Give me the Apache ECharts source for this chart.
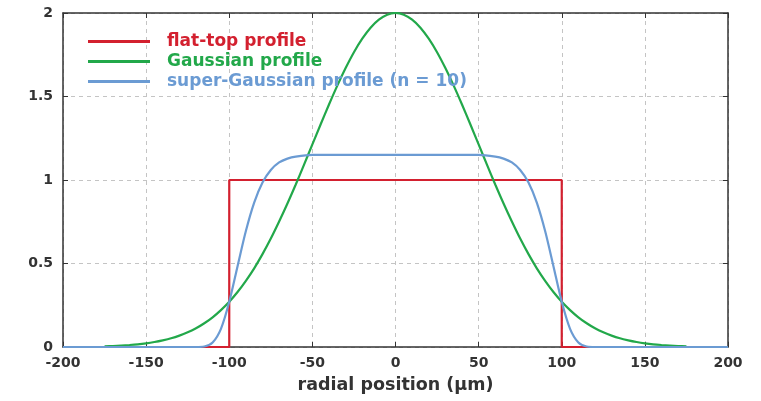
<!DOCTYPE html>
<html>
<head>
<meta charset="utf-8">
<script src="https://cdn.jsdelivr.net/npm/echarts@6/dist/echarts.min.js"></script>
<style>html,body{margin:0;padding:0;background:#fff;}#c{width:761px;height:401px;}</style>
</head>
<body>
<div id="c"></div>
<script>
// flat-top profile
const flatX = [-200, -100, -100, 100, 100, 200];
const flatY = [0, 0, 1, 1, 0, 0];
// Gaussian profile
const gaussX = [-175,-170,-165,-160,-155,-150,-145,-140,-135,-130,-125,-120,-115,-110,-105,-100,-95,-90,-85,-80,-75,-70,-65,-60,-55,-50,-45,-40,-35,-30,-25,-20,-15,-10,-5,0,5,10,15,20,25,30,35,40,45,50,55,60,65,70,75,80,85,90,95,100,105,110,115,120,125,130,135,140,145,150,155,160,165,170,175];
const gaussY = [0.004,0.006,0.009,0.012,0.016,0.022,0.030,0.040,0.052,0.068,0.088,0.112,0.142,0.178,0.221,0.271,0.329,0.396,0.471,0.556,0.649,0.751,0.859,0.973,1.092,1.213,1.334,1.452,1.565,1.670,1.765,1.846,1.912,1.960,1.990,2.000,1.990,1.960,1.912,1.846,1.765,1.670,1.565,1.452,1.334,1.213,1.092,0.973,0.859,0.751,0.649,0.556,0.471,0.396,0.329,0.271,0.221,0.178,0.142,0.112,0.088,0.068,0.052,0.040,0.030,0.022,0.016,0.012,0.009,0.006,0.004];
// super-Gaussian profile (n = 10)
const sgX = [-200,-120,-115,-110,-105,-100,-95,-90,-85,-80,-75,-70,-65,-60,-50,0,50,60,65,70,75,80,85,90,95,100,105,110,115,120,200];
const sgY = [0,0,0.003,0.027,0.109,0.271,0.484,0.695,0.865,0.985,1.060,1.105,1.128,1.140,1.150,1.150,1.150,1.140,1.128,1.105,1.060,0.985,0.865,0.695,0.484,0.271,0.109,0.027,0.003,0,0];
const xTicks = [-200, -150, -100, -50, 0, 50, 100, 150, 200];
const yTicks = [0, 0.5, 1, 1.5, 2];
const names = ['flat-top profile', 'Gaussian profile', 'super-Gaussian profile (n = 10)'];
const colors = ['#d3202f', '#22a84a', '#6b9bd3'];

const zip = (xs, ys) => xs.map((x, i) => [x, ys[i]]);
const chart = echarts.init(document.getElementById('c'));
const font = 'DejaVu Sans';
const gridLine = { show: true, lineStyle: { color: '#c4c4c4', type: [4, 4], width: 1 } };
const frameLine = { show: true, onZero: false, lineStyle: { color: '#333', width: 1.5 } };
const tickLbl = { fontFamily: font, fontSize: 14, fontWeight: 'bold', color: '#333' };
chart.setOption({
  animation: false,
  backgroundColor: '#fff',
  grid: { left: 63, right: 33, top: 13, bottom: 54, containLabel: false },
  legend: {
    orient: 'vertical', left: 83, top: 28, itemWidth: 62, itemHeight: 3, itemGap: 3,
    icon: 'rect',
    data: names.map((n, i) => ({ name: n, textStyle: { color: colors[i] } })),
    textStyle: { fontFamily: font, fontWeight: 'bold', fontSize: 17, padding: [0, 0, 0, 12] }
  },
  xAxis: [{
    type: 'value', min: xTicks[0], max: xTicks[xTicks.length - 1], interval: 50,
    name: 'radial position (µm)', nameLocation: 'middle', nameGap: 29,
    nameTextStyle: { fontFamily: font, fontWeight: 'bold', fontSize: 17.5, color: '#333' },
    axisLine: frameLine, axisTick: { inside: true, length: 5, lineStyle: { color: '#333' } },
    axisLabel: Object.assign({ margin: 9 }, tickLbl),
    splitLine: gridLine
  }, {
    type: 'value', position: 'top', min: xTicks[0], max: xTicks[xTicks.length - 1], interval: 50,
    axisLine: frameLine, axisTick: { inside: true, length: 5, lineStyle: { color: '#333' } },
    axisLabel: { show: false }, splitLine: { show: false }
  }],
  yAxis: [{
    type: 'value', min: yTicks[0], max: yTicks[yTicks.length - 1], interval: 0.5,
    axisLine: frameLine, axisTick: { inside: true, length: 5, lineStyle: { color: '#333' } },
    axisLabel: Object.assign({ margin: 10 }, tickLbl),
    splitLine: gridLine
  }, {
    type: 'value', position: 'right', min: yTicks[0], max: yTicks[yTicks.length - 1], interval: 0.5,
    axisLine: frameLine, axisTick: { inside: true, length: 5, lineStyle: { color: '#333' } },
    axisLabel: { show: false }, splitLine: { show: false }
  }],
  series: [
    { name: names[0], type: 'line', data: zip(flatX, flatY), showSymbol: false, symbol: 'none', lineStyle: { color: colors[0], width: 2.2 }, itemStyle: { color: colors[0] } },
    { name: names[1], type: 'line', data: zip(gaussX, gaussY), smooth: 0.3, showSymbol: false, symbol: 'none', lineStyle: { color: colors[1], width: 2.2 }, itemStyle: { color: colors[1] } },
    { name: names[2], type: 'line', data: zip(sgX, sgY), smooth: 0.3, showSymbol: false, symbol: 'none', lineStyle: { color: colors[2], width: 2.2 }, itemStyle: { color: colors[2] } }
  ]
});
</script>
</body>
</html>
